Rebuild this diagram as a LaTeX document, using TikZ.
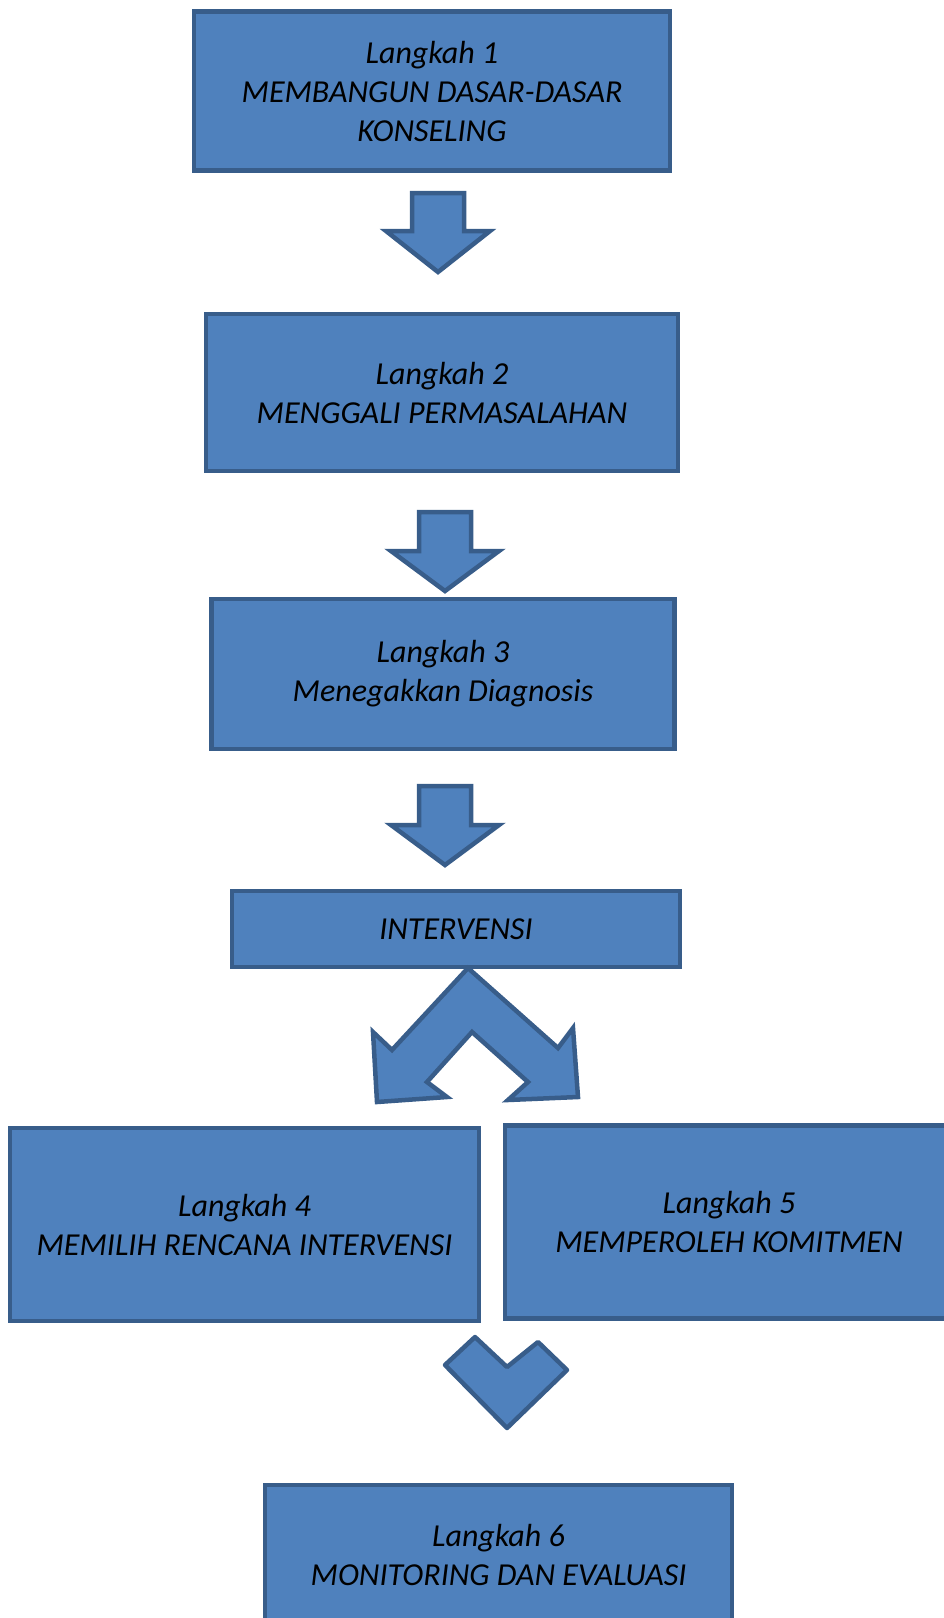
\documentclass[tikz,border=0pt]{standalone}
\usepackage{fontspec}
\setmainfont{Carlito}
\definecolor{boxfill}{HTML}{4F81BD}
\definecolor{boxline}{HTML}{385D8A}
\begin{document}
\begin{tikzpicture}[x=1pt,y=-1pt,
  stepbox/.style={draw=boxline, fill=boxfill, line width=4.5pt, rectangle, inner sep=0pt,
     align=center, font=\fontsize{32}{39}\selectfont\itshape, text=black},
  blockarrow/.style={draw=boxline, fill=boxfill, line width=4.5pt, line join=miter}]
\useasboundingbox (0,0) rectangle (944,1618);
\clip (0,0) rectangle (944,1618);
\node[stepbox, minimum width=476pt, minimum height=159pt] (s1) at (432,91) {Langkah 1\\MEMBANGUN DASAR-DASAR\\KONSELING};
\node[stepbox, minimum width=472pt, minimum height=157pt] (s2) at (442,392.5) {Langkah 2\\MENGGALI PERMASALAHAN};
\node[stepbox, minimum width=463pt, minimum height=150pt] (s3) at (443,674) {Langkah 3\\Menegakkan Diagnosis};
\node[stepbox, minimum width=448pt, minimum height=76pt] (iv) at (456,929) {INTERVENSI};
\node[stepbox, minimum width=469pt, minimum height=193pt] (s4) at (244.5,1224.5) {Langkah 4\\MEMILIH RENCANA INTERVENSI};
\node[stepbox, minimum width=448pt, minimum height=193pt] (s5) at (729,1222) {Langkah 5\\MEMPEROLEH KOMITMEN};
\node[stepbox, minimum width=467pt, minimum height=140pt] (s6) at (498.5,1555) {Langkah 6\\MONITORING DAN EVALUASI};
% down arrows
\draw[blockarrow] (412,193) -- (464,193) -- (464,231) -- (490,231) -- (438,272) -- (386,231) -- (412,231) -- cycle;
\draw[blockarrow] (419,512) -- (471,512) -- (471,551) -- (499,551) -- (445,591) -- (391,551) -- (419,551) -- cycle;
\draw[blockarrow] (419,786) -- (471,786) -- (471,825) -- (499,825) -- (445,865) -- (391,825) -- (419,825) -- cycle;
% split arrow
\draw[blockarrow] (468,968) -- (558,1048) -- (573,1028) -- (578,1097) -- (508,1100) -- (528,1082)
  -- (472,1032) -- (427,1082) -- (447,1097) -- (377,1102) -- (373,1032) -- (392,1050) -- cycle;
% chevron
\draw[blockarrow, line join=round] (475,1337) -- (507,1367) -- (538,1342) -- (567,1370) -- (507,1428) -- (445,1365) -- cycle;
\end{tikzpicture}
\end{document}
